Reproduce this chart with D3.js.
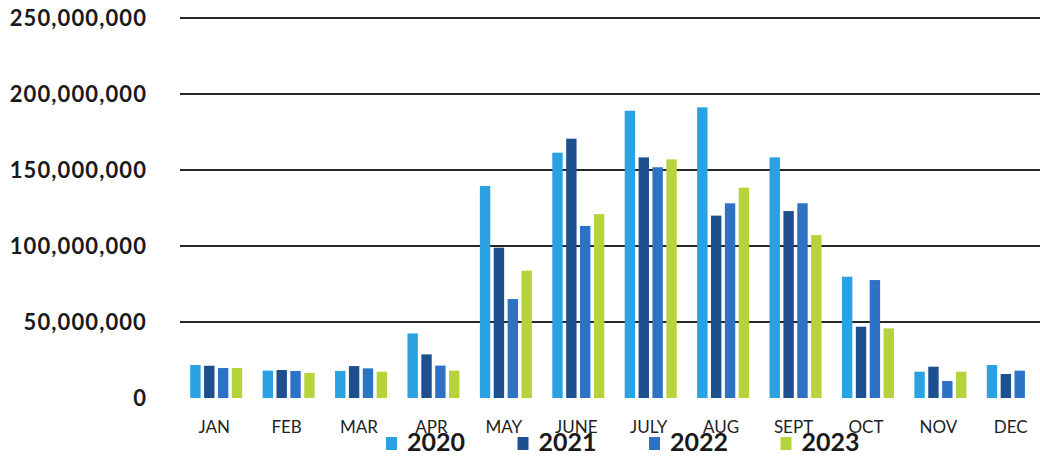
<!DOCTYPE html>
<html><head><meta charset="utf-8">
<script src="https://cdn.jsdelivr.net/npm/d3@7"></script>
<style>body{margin:0;background:#fff}svg{display:block}</style>
</head><body>
<script>
const months = ["JAN","FEB","MAR","APR","MAY","JUNE","JULY","AUG","SEPT","OCT","NOV","DEC"];
const years = ["2020","2021","2022","2023"];
const v2020 = [21.7,18.0,17.8,42.5,139.5,161.4,189.0,191.2,158.3,79.8,17.3,21.7];
const v2021 = [21.2,18.4,21.0,28.7,98.9,170.6,158.3,120.0,123.0,46.9,20.6,15.8];
const v2022 = [19.7,17.8,19.5,21.3,65.1,113.2,151.8,128.1,128.1,77.6,11.2,18.0];
const v2023 = [19.7,16.4,17.3,18.0,83.8,121.0,157.0,138.4,107.2,45.8,17.3,null];
const yTicks = [0,50000000,100000000,150000000,200000000,250000000];
const colors = ["#2AA2E2","#1E4F8F","#2E72C6","#B5D33A"];
const series = [v2020,v2021,v2022,v2023];

const W=1040,H=457;
const svg=d3.select("body").append("svg").attr("width",W).attr("height",H);
const y=d3.scaleLinear().domain([0,250000000]).range([398,18]);
const x0=d3.scaleBand().domain(months).range([180,1049]).paddingInner(0).paddingOuter(0);
const x1=d3.scaleBand().domain(years).range([0,52]).paddingInner(0.25);
const gOff=(x0.bandwidth()-52)/2;

// gridlines
svg.append("g").selectAll("line").data(yTicks.filter(d=>d>0)).join("line")
 .attr("x1",180).attr("x2",1040).attr("y1",d=>y(d)).attr("y2",d=>y(d))
 .attr("stroke","#262626").attr("stroke-width",2);

// y axis labels
const fmt=d3.format(",");
svg.append("g").selectAll("text").data(yTicks).join("text")
 .attr("x",147).attr("y",d=>y(d)).attr("dy","0.36em").attr("text-anchor","end")
 .attr("font-family","Lato, 'Open Sans', sans-serif").attr("font-weight","bold").attr("font-size",22)
 .attr("letter-spacing","1.1px")
 .attr("fill","#1a1a1a").text(d=>fmt(d));

// bars
const g=svg.append("g");
months.forEach((m,i)=>{
  years.forEach((yr,j)=>{
    const v=series[j][i];
    if(v==null) return;
    g.append("rect").attr("x",x0(m)+gOff+x1(yr)).attr("width",x1.bandwidth())
     .attr("y",y(v*1e6)).attr("height",y(0)-y(v*1e6)).attr("fill",colors[j]);
  });
});

// x labels
svg.append("g").selectAll("text").data(months).join("text")
 .attr("x",d=>x0(d)+x0.bandwidth()/2-2).attr("y",433).attr("text-anchor","middle")
 .attr("font-family","Lato, 'Open Sans', sans-serif").attr("font-size",17)
 .attr("fill","#222").text(d=>d);

// legend
const lg=svg.append("g");
years.forEach((yr,j)=>{
  const lx=386+j*131.5;
  lg.append("rect").attr("x",lx).attr("y",437).attr("width",11).attr("height",13).attr("fill",colors[j]);
  lg.append("text").attr("x",lx+21).attr("y",451)
   .attr("font-family","Lato, 'Open Sans', sans-serif").attr("font-weight","bold").attr("font-size",25)
   .attr("fill","#1a1a1a").text(yr);
});
</script>
</body></html>
